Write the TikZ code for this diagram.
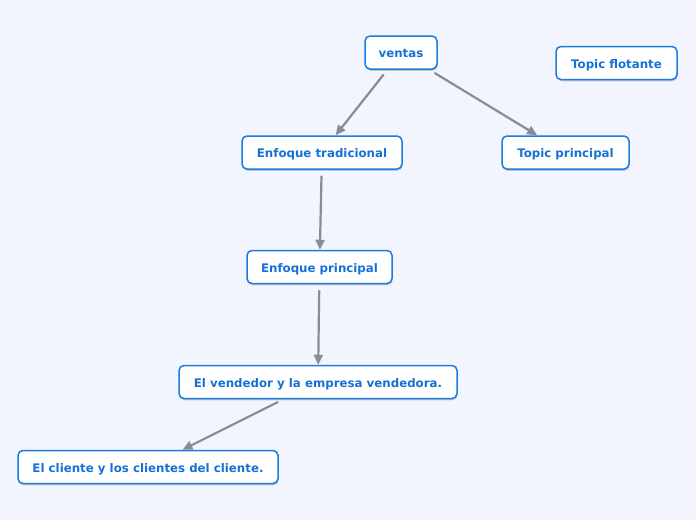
\documentclass[tikz,border=0pt]{standalone}
\usepackage{fontspec}
\setmainfont{DejaVu Sans}
\usetikzlibrary{arrows.meta,shadows}
\definecolor{bg}{HTML}{F2F5FE}
\definecolor{topicblue}{HTML}{1B7BE0}
\definecolor{txtblue}{HTML}{1670D6}
\definecolor{linegray}{HTML}{8A8C94}
\tikzset{
  topic/.style={draw=topicblue, line width=1.5pt, fill=white, rounded corners=5pt,
    minimum height=33pt, inner sep=0pt, text=txtblue,
    text height=11pt, text depth=0.8pt,
    font=\bfseries\fontsize{11.8}{14}\selectfont,
    drop shadow={shadow xshift=0.6pt, shadow yshift=-1.8pt, fill=black, opacity=0.18}},
  conn/.style={draw=linegray, line width=2.2pt, shorten <=6pt,
    -{Triangle[length=10pt,width=9pt]}}
}
\begin{document}
\begin{tikzpicture}[x=1pt,y=-1pt]
\fill[bg] (0,0) rectangle (696,520);
\useasboundingbox (0,0) rectangle (696,520);
\node[topic, minimum width=72pt] (ventas) at (401,52.5) {ventas};
\node[topic, minimum width=121pt] (flot) at (616.5,63) {Topic flotante};
\node[topic, minimum width=160pt] (trad) at (322,152.5) {Enfoque tradicional};
\node[topic, minimum width=127pt] (tprin) at (565.5,152.5) {Topic principal};
\node[topic, minimum width=145pt] (eprin) at (319.5,267) {Enfoque principal};
\node[topic, minimum width=278pt] (vend) at (318,382) {El vendedor y la empresa vendedora.};
\node[topic, minimum width=260pt] (cli) at (148,467) {El cliente y los clientes del cliente.};
\draw[conn] (ventas) -- (trad);
\draw[conn] (ventas) -- (tprin);
\draw[conn] (trad) -- (eprin);
\draw[conn] (eprin) -- (vend);
\draw[conn] (vend) -- (cli);
\end{tikzpicture}
\end{document}
